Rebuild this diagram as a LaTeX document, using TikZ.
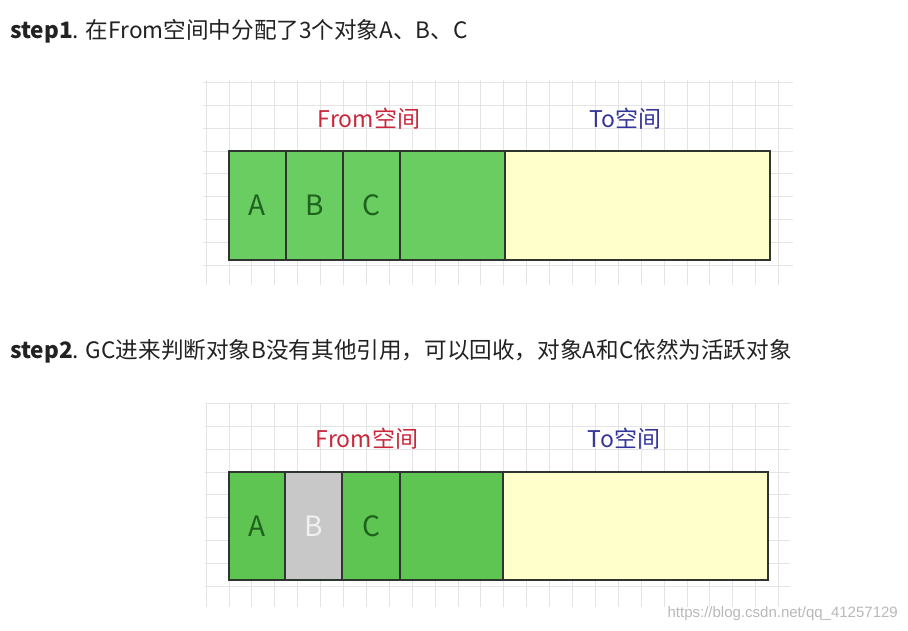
\documentclass[tikz,border=0pt]{standalone}
\usepackage{fontspec}
\setmainfont{Noto Sans CJK SC}
\newfontfamily\wmfont{Liberation Sans}
\definecolor{txtc}{HTML}{222222}
\definecolor{gridc}{HTML}{E4E4E4}
\definecolor{greenA}{HTML}{6ACD62}
\definecolor{greenB}{HTML}{5EC552}
\definecolor{grayB}{HTML}{C8C8C8}
\definecolor{yel}{HTML}{FFFFCB}
\definecolor{fromc}{HTML}{C8283C}
\definecolor{toc}{HTML}{34349A}
\definecolor{celltxt}{HTML}{1D621D}
\definecolor{border}{HTML}{2E342E}
\tikzset{
  cellbox/.style={draw=border, line width=2.6pt, inner sep=0pt, outer sep=0pt, anchor=north west,
     font=\fontsize{28}{28}\selectfont, text=celltxt},
  gridline/.style={draw=gridc, line width=0.9pt},
  spacelbl/.style={font=\fontsize{23}{23}\selectfont, inner sep=0pt},
  titlelbl/.style={anchor=base west, inner sep=0pt, text=txtc, font=\fontsize{22.6}{22.6}\selectfont},
}
\begin{document}
\begin{tikzpicture}[x=1pt,y=-1pt]
\useasboundingbox[fill=white] (0,0) rectangle (908,630);
% titles
\node[titlelbl] (t1) at (10,38) {\textbf{step1}. 在From空间中分配了3个对象A、B、C};
\node[titlelbl] (t2) at (10,358) {\textbf{step2}. GC进来判断对象B没有其他引用，可以回收，对象A和C依然为活跃对象};
% grid 1
\begin{scope}
\clip (203,80) rectangle (793,285);
\foreach \i in {-2,...,25} {\draw[gridline] ({229+22.9*\i},80) -- ({229+22.9*\i},285);}
\foreach \j in {-4,...,6} {\draw[gridline] (203,{151+22.9*\j}) -- (793,{151+22.9*\j});}
\end{scope}
% grid 2
\begin{scope}
\clip (205,403) rectangle (790,607);
\foreach \i in {-2,...,25} {\draw[gridline] ({229+22.9*\i},403) -- ({229+22.9*\i},607);}
\foreach \j in {-4,...,6} {\draw[gridline] (205,{472+22.9*\j}) -- (790,{472+22.9*\j});}
\end{scope}
% diagram 1
\node[spacelbl, text=fromc] (from1) at (369,119) {From空间};
\node[spacelbl, text=toc] (to1) at (625,119) {To空间};
\node[cellbox, fill=yel, minimum width=265pt, minimum height=109pt] (tsp1) at (505,151) {};
\node[cellbox, fill=greenA, minimum width=105pt, minimum height=109pt] (free1) at (400,151) {};
\node[cellbox, fill=greenA, minimum width=57pt, minimum height=109pt] (a1) at (229,151) {A};
\node[cellbox, fill=greenA, minimum width=57pt, minimum height=109pt] (b1) at (286,151) {B};
\node[cellbox, fill=greenA, minimum width=57pt, minimum height=109pt] (c1) at (343,151) {C};
% diagram 2
\node[spacelbl, text=fromc] (from2) at (367,439) {From空间};
\node[spacelbl, text=toc] (to2) at (624,439) {To空间};
\node[cellbox, fill=yel, minimum width=265pt, minimum height=108pt] (tsp2) at (503,472) {};
\node[cellbox, fill=greenB, minimum width=103pt, minimum height=108pt] (free2) at (400,472) {};
\node[cellbox, fill=greenB, minimum width=56pt, minimum height=108pt] (a2) at (229,472) {A};
\node[cellbox, fill=grayB, text=white!88!gray, minimum width=57pt, minimum height=108pt] (b2) at (285,472) {B};
\node[cellbox, fill=greenB, minimum width=58pt, minimum height=108pt] (c2) at (342,472) {C};
% watermark
\node[anchor=base east, inner sep=0pt, text=gray!55, font=\wmfont\fontsize{15}{15}\selectfont] (wm) at (898,617) {https://blog.csdn.net/qq\_41257129};
\end{tikzpicture}
\end{document}
